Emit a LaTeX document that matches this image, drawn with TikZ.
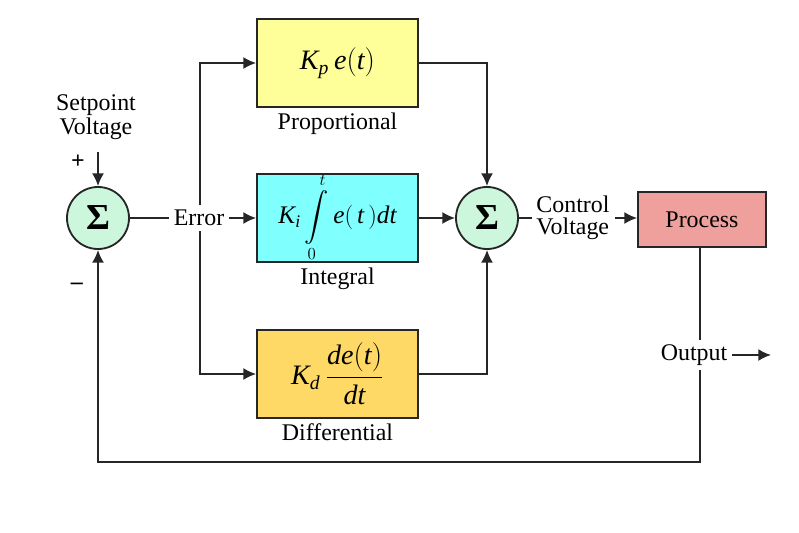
\documentclass[tikz,border=0pt]{standalone}
\usepackage{amsmath}
\usepackage{fontspec}
\setmainfont{Liberation Serif}
\usetikzlibrary{positioning,arrows.meta}

\definecolor{propfill}{HTML}{FFFF99}
\definecolor{intfill}{HTML}{80FFFF}
\definecolor{diffill}{HTML}{FFD966}
\definecolor{sumfill}{HTML}{CCF7DC}
\definecolor{procfill}{HTML}{F0A09C}

\begin{document}
\begin{tikzpicture}[>={Latex[length=9pt,width=8.5pt]},x=0.025cm,y=-0.025cm,
	every node/.style={font=\fontsize{17}{20}\selectfont},
	block/.style={draw=black!85,line width=1.3pt,minimum width=4.025cm,minimum height=2.2cm},
	sumnode/.style={draw=black!85,circle,line width=1.3pt,fill=sumfill,minimum size=1.55cm,inner sep=0pt,font=\fontsize{26}{26}\selectfont\bfseries},
	eqn/.style={font=\fontsize{20}{24}\selectfont}]
	\useasboundingbox (0,0) rectangle (799,532);
	
	% summing junctions and blocks
	\node[sumnode] (sum1) at (98,218) {Σ};
	\node[sumnode] (sum2) at (487,218) {Σ};
	\node[block,fill=propfill,eqn] (prop) at (337.5,63) {$\textit{K}_{\textit{p}}\,\textit{e}(\textit{t})$};
	\node[block,fill=intfill,eqn] (int) at (337.5,218) {\raisebox{-4pt}[0pt][0pt]{\fontsize{18}{22}\selectfont$\textit{K}_{\textit{i}}\displaystyle\int\limits_0^t \textit{e}(\,\textit{t}\,)\textit{dt}$}};
	\node[block,fill=diffill,eqn] (dif) at (337.5,374) {$\textit{K}_{\textit{d}}\,\dfrac{\textit{de}(\textit{t})}{\textit{dt}}$};
	\node[draw=black!85,line width=1.3pt,fill=procfill,minimum width=3.2cm,minimum height=1.375cm] (proc) at (702,219.5) {Process};
	
	% labels
	\node[below=0pt of prop] (proplbl) {Proportional};
	\node[below=0pt of int] (intlbl) {Integral};
	\node[below=0pt of dif] (diflbl) {Differential};
	\node[align=center] (sp) at (96,117) {Setpoint\\[-3pt]Voltage};
	\node (plus) at (78,162) {\textbf{+}};
	\node (minus) at (77,286) {\textbf{–}};
	\node (err) at (199,218) {Error};
	\node[align=left] (cv) at (573,218) {Control\\[-4pt]Voltage};
	\node (out) at (694,355) {Output};
	
	\coordinate (spin) at (98,152);
	\coordinate (brtop) at (200,63);
	\coordinate (brbot) at (200,374);
	\coordinate (fb) at (700,462);
	\coordinate (outend) at (771,355);
	
	% connectors
	\begin{scope}[line width=1.3pt,black!85]
		\draw[->] (spin) -- (sum1);
		\draw (sum1) -- (err);
		\draw[->] (err) -- (int);
		\draw[->] (err.north -| brtop) -- (brtop) -- (prop);
		\draw[->] (err.south -| brbot) -- (brbot) -- (dif);
		\draw[->] (prop) -| (sum2);
		\draw[->] (int) -- (sum2);
		\draw[->] (dif) -| (sum2);
		\draw (sum2) -- (cv);
		\draw[->] (cv) -- (cv -| proc.west);
		\draw (proc.south -| fb) -- (out.north -| fb);
		\draw[->] (out.south -| fb) -- (fb) -| (sum1);
		\draw[->] (out) -- (outend);
	\end{scope}
\end{tikzpicture}
\end{document}
